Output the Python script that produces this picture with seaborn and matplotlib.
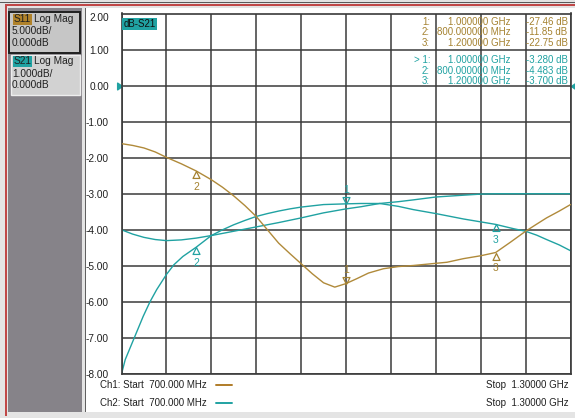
import numpy as np
import pandas as pd
import matplotlib
matplotlib.use("Agg")
import matplotlib.pyplot as plt
import matplotlib.transforms as mtransforms
from matplotlib.patches import Rectangle
from matplotlib.lines import Line2D
from matplotlib.path import Path
from matplotlib.markers import MarkerStyle
import seaborn as sns

# ---------------- data ----------------
s11_freq_mhz = [700, 715, 730, 745, 760, 780, 800, 820, 835, 850, 865, 880, 895,
                910, 925, 940, 955, 970, 985, 1000, 1015, 1030, 1050, 1070, 1090,
                1110, 1135, 1157, 1180, 1200, 1220, 1240, 1255, 1268, 1285, 1300]
s11_db = [-8.05, -8.30, -8.65, -9.20, -9.95, -10.85, -11.85, -13.05, -14.10, -15.30,
          -16.65, -18.15, -20.00, -21.85, -23.30, -24.70, -26.10, -27.35, -27.95,
          -27.46, -26.75, -26.00, -25.40, -25.10, -24.95, -24.75, -24.50, -24.00,
          -23.60, -23.15, -21.70, -20.20, -19.20, -18.35, -17.40, -16.50]

s21_freq_mhz = [700, 705, 711, 720, 729, 738, 747, 760, 770, 782, 800, 820, 835, 850,
                865, 880, 895, 910, 925, 940, 970, 1000, 1020, 1045, 1070, 1090, 1120,
                1157, 1180, 1200, 1224, 1240, 1255, 1268, 1285, 1300]
s21_db = [-8.00, -7.60, -7.30, -6.85, -6.40, -6.00, -5.66, -5.24, -4.97, -4.74, -4.48,
          -4.16, -4.00, -3.86, -3.74, -3.63, -3.55, -3.48, -3.42, -3.37, -3.30, -3.28,
          -3.27, -3.27, -3.35, -3.44, -3.55, -3.70, -3.78, -3.85, -3.97, -4.04, -4.15,
          -4.27, -4.42, -4.58]

s21b_freq_mhz = [700, 715, 730, 745, 760, 780, 800, 820, 850, 880, 910, 940, 970, 1000,
                 1020, 1045, 1070, 1090, 1120, 1157, 1180, 1200, 1250, 1300]
s21b_db = [-4.00, -4.12, -4.21, -4.27, -4.30, -4.28, -4.23, -4.16, -4.04, -3.92, -3.80,
           -3.67, -3.53, -3.42, -3.36, -3.27, -3.22, -3.17, -3.09, -3.04, -3.01, -3.00,
           -3.00, -3.00]

marker_ids = ["1", "2", "3"]
marker_freq_mhz = [1000, 800, 1200]
s11_marker_db = [-27.46, -11.85, -22.75]
s21_marker_db = [-3.280, -4.483, -3.700]
active_marker = "1"

y_ticks = [2, 1, 0, -1, -2, -3, -4, -5, -6, -7, -8]
x_grid_mhz = [700, 760, 820, 880, 940, 1000, 1060, 1120, 1180, 1240, 1300]
start_mhz, stop_mhz = 700.0, 1300.0
s11_scale_db, s21_scale_db = 5.0, 1.0
ref_db = 0.0

# ---------------- style ----------------
TEAL = "#20a2a2"
BROWN = "#b08a3a"
BROWN_TXT = "#a58230"
GRID = "#3a3a3a"

sns.set_theme(style="white")
plt.rcParams["font.family"] = ["Liberation Sans", "DejaVu Sans"]

W, H = 575, 418
fig = plt.figure(figsize=(W / 100, H / 100), dpi=100, facecolor="#e4e4e4")


def fx(x):
    return x / W


def fy(y):
    return 1 - y / H


def rect(x0, y0, x1, y1, **kw):
    kw.setdefault("zorder", -5)
    fig.patches.append(Rectangle((fx(x0), fy(y1)), (x1 - x0) / W, (y1 - y0) / H,
                                 transform=fig.transFigure, **kw))


def ftext(x, y, s, **kw):
    kw.setdefault("fontsize", 7)
    kw.setdefault("va", "center")
    fig.text(fx(x), fy(y), s, **kw)


# window frame
rect(0, 1.5, W, 3, color="#5a5a5a", lw=0)
rect(5, 4, W, 5.5, color="#c04848", lw=0)
rect(5, 4, 6.5, 416, color="#c04848", lw=0)
rect(86, 8, W, 412, color="white", lw=0)
rect(85, 8, 86.2, 412, color="#606060", lw=0)
rect(8, 8, 82, 412, color="#868389", lw=0)

# channel boxes in the sidebar
rect(9, 12, 80, 53, facecolor="#c6c6c6", edgecolor="#202020", lw=1.4)
rect(11, 55, 80, 95, facecolor="#d2d2d2", edgecolor="#eeeeee", lw=1.0)
ftext(13.5, 19.5, "S11", color="#202020", fontsize=7.3,
      bbox=dict(boxstyle="square,pad=0.08", fc="#b0822a", ec="none"))
ftext(34, 19.5, "Log Mag", color="#202020", fontsize=7.3)
ftext(12, 31.5, f"{s11_scale_db:.3f}dB/", color="#202020", fontsize=7.3)
ftext(12, 43, f"{ref_db:.3f}dB", color="#202020", fontsize=7.3)
ftext(13.5, 61.5, "S21", color="#202020", fontsize=7.3,
      bbox=dict(boxstyle="square,pad=0.08", fc=TEAL, ec="none"))
ftext(34, 61.5, "Log Mag", color="#202020", fontsize=7.3)
ftext(12, 74, f"{s21_scale_db:.3f}dB/", color="#202020", fontsize=7.3)
ftext(12, 85.5, f"{ref_db:.3f}dB", color="#202020", fontsize=7.3)

# ---------------- axes ----------------
ax = fig.add_axes([fx(121.5), fy(374), (570.5 - 121.5) / W, (374 - 13.5) / H])
ax.set_facecolor("white")
ax.set_xlim(start_mhz, stop_mhz)
ax.set_ylim(min(y_ticks), max(y_ticks))
ax.set_xticks(x_grid_mhz)
ax.set_yticks(y_ticks)
ax.grid(True, color=GRID, lw=1.1)
ax.tick_params(length=0, labelbottom=False, pad=9)
ax.set_yticklabels([f"{v:.2f}" for v in y_ticks], fontsize=7.3, color="#202020")
ax.get_yticklabels()[0].set_verticalalignment("top")
for sp in ax.spines.values():
    sp.set_color(GRID)
    sp.set_linewidth(1.2)

df21 = pd.DataFrame({"freq": s21_freq_mhz, "db": s21_db})
df21b = pd.DataFrame({"freq": s21b_freq_mhz, "db": s21b_db})
sns.lineplot(data=df21b, x="freq", y="db", ax=ax, color=TEAL, lw=1.0, estimator=None)
sns.lineplot(data=df21, x="freq", y="db", ax=ax, color=TEAL, lw=1.0, estimator=None)
ax.set_xlabel("")
ax.set_ylabel("")

# S11 on its own scale: 5 dB/div, reference 0 dB at the same graticule line
ax2 = ax.twinx()
n_above = max(y_ticks) - 0
n_below = 0 - min(y_ticks)
ax2.set_ylim(ref_db - n_below * s11_scale_db, ref_db + n_above * s11_scale_db)
ax2.set_yticks([])
for sp in ax2.spines.values():
    sp.set_visible(False)
df11 = pd.DataFrame({"freq": s11_freq_mhz, "db": s11_db})
sns.lineplot(data=df11, x="freq", y="db", ax=ax2, color=BROWN, lw=1.0, estimator=None)
ax2.set_xlabel("")
ax2.set_ylabel("")
ax2.grid(False)

# ---------------- markers ----------------
tri_up = MarkerStyle(Path([(0, 0), (-0.5, -1), (0.5, -1), (0, 0)],
                          [Path.MOVETO, Path.LINETO, Path.LINETO, Path.CLOSEPOLY]))
tri_dn = MarkerStyle(Path([(0, 0), (-0.5, 1), (0.5, 1), (0, 0)],
                          [Path.MOVETO, Path.LINETO, Path.LINETO, Path.CLOSEPOLY]))

for a, fr, vals, col in [(ax, s21_freq_mhz, s21_db, TEAL),
                         (ax2, s11_freq_mhz, s11_db, BROWN_TXT)]:
    for mid, mf in zip(marker_ids, marker_freq_mhz):
        yv = float(np.interp(mf, fr, vals))
        if mid == active_marker:
            a.plot([mf], [yv], marker=tri_dn, ms=10, mfc="none", mec=col, mew=0.9,
                   ls="none", clip_on=False)
            a.annotate(mid, (mf, yv), xytext=(0, 10), textcoords="offset points",
                       ha="center", va="center", fontsize=7.5, color=col)
        else:
            a.plot([mf], [yv], marker=tri_up, ms=10, mfc="none", mec=col, mew=0.9,
                   ls="none", clip_on=False)
            a.annotate(mid, (mf, yv), xytext=(0, -11.5), textcoords="offset points",
                       ha="center", va="center", fontsize=7.5, color=col)

# reference level arrows
ref_left = MarkerStyle(Path([(0, 0), (-1, 0.7), (-1, -0.7), (0, 0)],
                            [Path.MOVETO, Path.LINETO, Path.LINETO, Path.CLOSEPOLY]))
ref_right = MarkerStyle(Path([(0, 0), (1, 0.7), (1, -0.7), (0, 0)],
                             [Path.MOVETO, Path.LINETO, Path.LINETO, Path.CLOSEPOLY]))
blend = mtransforms.blended_transform_factory(ax.transAxes, ax.transData)
ax.plot([0], [ref_db], marker=ref_left, ms=7, color=TEAL, transform=blend, clip_on=False, ls="none")
ax.plot([1], [ref_db], marker=ref_right, ms=7, color=TEAL, transform=blend, clip_on=False, ls="none")

# active trace label
ax.text(0.004, 0.985, "dB-S21", transform=ax.transAxes, ha="left", va="top", fontsize=7,
        color="#101010", bbox=dict(boxstyle="square,pad=0.12", fc=TEAL, ec="none"))


# ---------------- marker readout ----------------
def fmt_freq(f):
    return f"{f / 1000:.6f} GHz" if f >= 1000 else f"{f:.6f} MHz"


row_y = 21.7
for vals, col, dec in [(s11_marker_db, BROWN_TXT, 2), (s21_marker_db, TEAL, 3)]:
    for mid, mf, v in zip(marker_ids, marker_freq_mhz, vals):
        lab = (f"> {mid}:" if (mid == active_marker and col == TEAL) else f"{mid}:")
        ftext(430, row_y, lab, ha="right", color=col)
        ftext(511, row_y, fmt_freq(mf), ha="right", color=col)
        ftext(526, row_y, f"{v:.{dec}f} dB", ha="left", color=col)
        row_y += 10.5
    row_y = 60.3

# ---------------- channel legend ----------------
for yy, ch, col in [(385, "Ch1", "#b07c28"), (403, "Ch2", TEAL)]:
    ftext(100, yy, f"{ch}: Start  {start_mhz:.3f} MHz", ha="left", color="#202020")
    fig.add_artist(Line2D([fx(216), fx(232)], [fy(yy), fy(yy)], color=col, lw=1.4,
                          transform=fig.transFigure))
    ftext(569, yy, f"Stop  {stop_mhz / 1000:.5f} GHz", ha="right", color="#202020")

fig.savefig("out.png", dpi=100, facecolor=fig.get_facecolor())
